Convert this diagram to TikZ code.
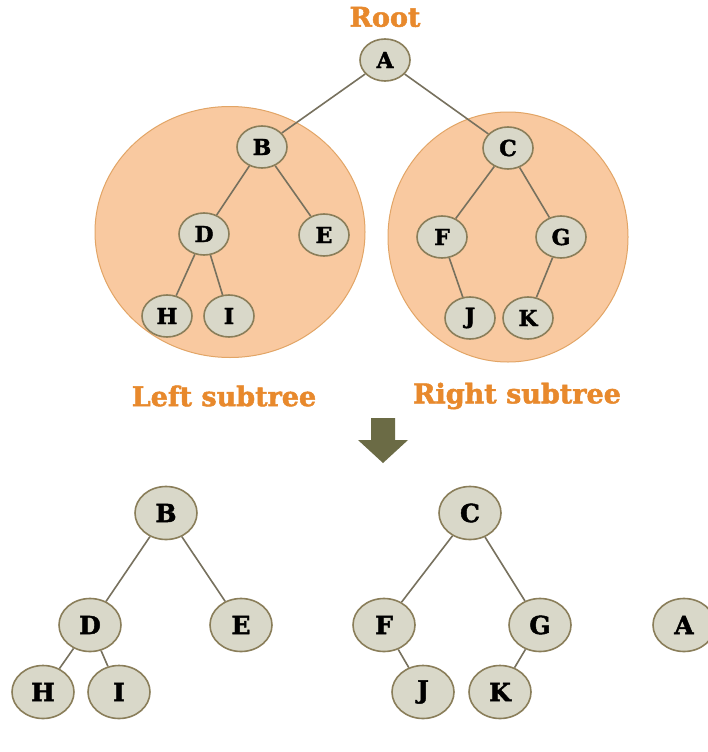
\documentclass[tikz,border=0pt]{standalone}
\usepackage{fontspec}
\setmainfont{DejaVu Serif}[BoldFeatures={FakeBold=1.8}]
\usetikzlibrary{shapes.geometric}
\definecolor{nodefill}{HTML}{D9D8C9}
\definecolor{nodeline}{HTML}{8A7E5A}
\definecolor{edgecol}{HTML}{77715E}
\definecolor{blobfill}{HTML}{F9C9A0}
\definecolor{blobline}{HTML}{E2A566}
\definecolor{labelcol}{HTML}{E8892C}
\definecolor{arrowcol}{HTML}{6B6B45}
\pgfdeclarelayer{back}
\pgfdeclarelayer{links}
\pgfsetlayers{back,links,main}
\begin{document}
\begin{tikzpicture}[x=1pt,y=-1pt,
  tnode/.style={ellipse,draw=nodeline,line width=1.6pt,fill=nodefill,
    minimum width=50pt,minimum height=42pt,inner sep=0pt,
    font=\fontsize{22}{22}\selectfont\bfseries},
  bnode/.style={tnode,minimum width=62pt,minimum height=53pt,
    font=\fontsize{25}{25}\selectfont\bfseries},
  edge/.style={draw=edgecol,line width=1.6pt},
  caption/.style={text=labelcol,font=\fontsize{27}{27}\selectfont\bfseries},
  blob/.style={ellipse,draw=blobline,line width=1pt,fill=blobfill,inner sep=0pt}]
\useasboundingbox (0,0) rectangle (707,752);
\begin{pgfonlayer}{back}
\fill[white] (0,0) rectangle (707,752);
% shaded subtree regions
\node[blob,minimum width=270pt,minimum height=251pt] (lblob) at (230,232) {};
\node[blob,minimum width=240pt,minimum height=250pt] (rblob) at (508,237) {};
\end{pgfonlayer}

% upper tree
\node[caption] (root) at (385,17) {Root};
\node[tnode] (A) at (385,60) {A};
\node[tnode] (B) at (262,147) {B};
\node[tnode] (C) at (508,148) {C};
\node[tnode] (D) at (204,234) {D};
\node[tnode] (E) at (324,235) {E};
\node[tnode] (F) at (442,237) {F};
\node[tnode] (G) at (561,237) {G};
\node[tnode] (H) at (167,316) {H};
\node[tnode] (I) at (229,316) {I};
\node[tnode] (J) at (470,318) {J};
\node[tnode] (K) at (528,318) {K};
\begin{pgfonlayer}{links}
\path[edge] (A) -- (B) (A) -- (C) (B) -- (D) (B) -- (E) (D) -- (H) (D) -- (I)
  (C) -- (F) (C) -- (G) (F) -- (J) (G) -- (K);
\end{pgfonlayer}

\node[caption] (lcap) at (224,396) {Left subtree};
\node[caption] (rcap) at (517,396) {Right subtree};

% downward arrow
\fill[arrowcol] (371,418) -- (395,418) -- (395,440) -- (408,440) -- (383,463)
  -- (358,440) -- (371,440) -- cycle;

% lower trees
\node[bnode] (b2) at (166,513) {B};
\node[bnode] (d2) at (90,625) {D};
\node[bnode] (e2) at (241,625) {E};
\node[bnode] (h2) at (43,692) {H};
\node[bnode] (i2) at (119,692) {I};
\node[bnode] (c2) at (470,513) {C};
\node[bnode] (f2) at (384,625) {F};
\node[bnode] (g2) at (540,625) {G};
\node[bnode] (j2) at (423,692) {J};
\node[bnode] (k2) at (500,692) {K};
\node[bnode] (a2) at (684,625) {A};
\begin{pgfonlayer}{links}
\draw[edge] (b2) -- (d2) (b2) -- (e2) (d2) -- (h2) (d2) -- (i2)
  (c2) -- (f2) (c2) -- (g2) (f2) -- (j2) (g2) -- (k2);
\end{pgfonlayer}
\end{tikzpicture}
\end{document}
